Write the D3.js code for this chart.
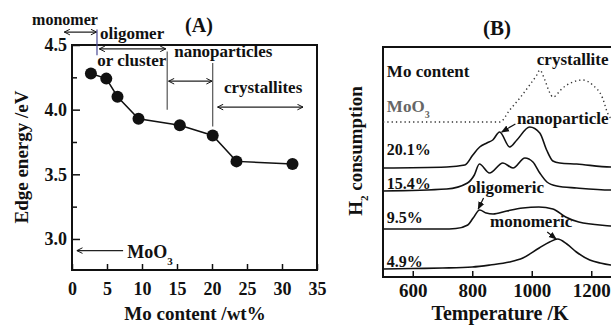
<!DOCTYPE html>
<html>
<head>
<meta charset="utf-8">
<title>Edge energy and H2-TPR of Mo catalysts</title>
<style>
  body { margin: 0; background: #fff; }
  text { font-family: "Liberation Serif", "Times New Roman", serif; font-weight: bold; fill: #111; }
</style>
</head>
<body>
<script src="https://cdnjs.cloudflare.com/ajax/libs/d3/7.8.5/d3.min.js"></script>
<script>
// ---- panel A data : edge energy vs Mo content
var moContent  = [2.7, 4.9, 6.5, 9.5, 15.4, 20.1, 23.5, 31.5];
var edgeEnergy = [4.28, 4.24, 4.10, 3.93, 3.88, 3.80, 3.60, 3.58];
var xTicksA = [0, 5, 10, 15, 20, 25, 30, 35];
var yTicksA = [3.0, 3.5, 4.0, 4.5];
var yMinorA = [3.25, 3.75, 4.25];
var moO3Edge = 2.91;

// ---- panel B data : H2 consumption (arbitrary units, curves stacked)
var tempTicksB = [600, 800, 1000, 1200];
var temp49 = [500, 600, 700, 800, 860, 925, 970, 1025, 1060, 1087, 1118, 1150, 1195, 1230, 1265, 1300];
var h2_49  = [8, 8.5, 9, 10, 12, 15, 19, 29, 35, 38, 33, 25, 17, 14, 12, 11];
var temp95 = [500, 700, 745, 785, 803, 825, 847, 870, 916, 970, 1024, 1071, 1114, 1158, 1265, 1300];
var h2_95  = [48, 48, 48.5, 52, 59, 67, 64, 63, 66, 69, 70, 68, 60, 55, 51, 50];
var temp154 = [500, 714, 784, 807, 824, 858, 903, 937, 977, 1004, 1027, 1051, 1084, 1151, 1265, 1300];
var h2_154  = [86, 88, 94, 102, 113, 104, 114, 109, 119, 115, 104, 95, 91, 89, 87, 87];
var temp201 = [500, 714, 775, 802, 825, 849, 869, 892, 926, 950, 993, 1027, 1050, 1071, 1094, 1151, 1265, 1300];
var h2_201  = [109, 110, 112, 122, 130, 134, 137, 145, 130, 137, 150, 144, 127, 116, 114, 113, 110, 110];
var tempMoO3 = [500, 893, 926, 960, 993, 1017, 1027, 1044, 1061, 1071, 1104, 1138, 1171, 1205, 1238, 1255, 1265, 1300];
var h2_MoO3  = [155, 155, 167, 179, 192, 202, 207, 197, 184, 180, 189, 195, 197, 192, 179, 164, 159, 155];
var sampleLabels = ["20.1%", "15.4%", "9.5%", "4.9%"];
var labelLevels  = [122, 88, 54, 10];

var svg = d3.select("body").append("svg")
    .attr("width", 611)
    .attr("height", 326);

var defs = svg.append("defs");
defs.append("marker")
    .attr("id", "open")
    .attr("viewBox", "0 0 10 10")
    .attr("refX", 9).attr("refY", 5)
    .attr("markerWidth", 7).attr("markerHeight", 7)
    .attr("markerUnits", "userSpaceOnUse")
    .attr("orient", "auto-start-reverse")
  .append("path")
    .attr("d", "M1,1 L9,5 L1,9")
    .style("fill", "none").style("stroke", "#111").style("stroke-width", 1.4);
defs.append("marker")
    .attr("id", "solid")
    .attr("viewBox", "0 0 10 10")
    .attr("refX", 9).attr("refY", 5)
    .attr("markerWidth", 8).attr("markerHeight", 8)
    .attr("markerUnits", "userSpaceOnUse")
    .attr("orient", "auto")
  .append("path")
    .attr("d", "M0,1 L10,5 L0,9 Z")
    .style("fill", "#111");

// =================== panel A ===================
var xA = d3.scaleLinear().domain([0, 35]).range([72, 317]);
var yA = d3.scaleLinear().domain([2.76, 4.5]).range([270, 45]);

var gA = svg.append("g");

gA.append("g")
    .attr("transform", "translate(0," + yA(2.76) + ")")
    .call(d3.axisBottom(xA).tickValues(xTicksA).tickSize(-6).tickPadding(12).tickFormat(d3.format("d")))
    .call(function(g) {
      g.select(".domain").remove();
      g.selectAll("line").style("stroke", "#111").style("stroke-width", 1.5);
      g.selectAll("text").style("font-size", "18px").style("font-family", null);
    });

gA.append("g")
    .attr("transform", "translate(" + xA(0) + ",0)")
    .call(d3.axisLeft(yA).tickValues(yTicksA).tickSize(-8).tickPadding(5).tickFormat(d3.format(".1f")))
    .call(function(g) {
      g.select(".domain").remove();
      g.selectAll("line").style("stroke", "#111").style("stroke-width", 1.5);
      g.selectAll("text").style("font-size", "18px").style("font-family", null);
    });

gA.append("g")
    .attr("transform", "translate(" + xA(0) + ",0)")
    .call(d3.axisLeft(yA).tickValues(yMinorA).tickSize(-5).tickFormat(""))
    .call(function(g) {
      g.select(".domain").remove();
      g.selectAll("line").style("stroke", "#111").style("stroke-width", 1.5);
    });

gA.append("rect")
    .attr("x", xA(0)).attr("y", yA(4.5))
    .attr("width", xA(35) - xA(0)).attr("height", yA(2.76) - yA(4.5))
    .style("fill", "none").style("stroke", "#111").style("stroke-width", 2);

var ptsA = moContent.map(function(d, i) { return [d, edgeEnergy[i]]; });
gA.append("path")
    .datum(ptsA)
    .attr("d", d3.line().x(function(d) { return xA(d[0]); }).y(function(d) { return yA(d[1]); }))
    .style("fill", "none").style("stroke", "#111").style("stroke-width", 1.5);
gA.selectAll("circle.pt")
    .data(ptsA)
  .enter().append("circle")
    .attr("class", "pt")
    .attr("cx", function(d) { return xA(d[0]); })
    .attr("cy", function(d) { return yA(d[1]); })
    .attr("r", 6)
    .style("fill", "#111");

// region annotations
function seg(g, x1, y1, x2, y2, m1, m2, col) {
  var l = g.append("line")
      .attr("x1", x1).attr("y1", y1).attr("x2", x2).attr("y2", y2)
      .style("stroke", col || "#222").style("stroke-width", 1.2);
  if (m1) l.attr("marker-start", "url(#" + m1 + ")");
  if (m2) l.attr("marker-end", "url(#" + m2 + ")");
  return l;
}
seg(gA, xA(-1.1), yA(4.60), xA(3.5), yA(4.60), "open", "open");
seg(gA, xA(3.9), yA(4.47), xA(13.4), yA(4.47), "open", "open");
seg(gA, xA(13.8), yA(4.22), xA(20.0), yA(4.22), "open", "open");
seg(gA, xA(20.8), yA(4.02), xA(33.0), yA(4.02), "open", "open");
seg(gA, xA(3.57), yA(4.62), xA(3.57), yA(4.42), null, null, "#4a4a96");
seg(gA, xA(13.6), yA(4.45), xA(13.6), yA(4.0), null, null, "#555");
seg(gA, xA(20.1), yA(4.36), xA(20.1), yA(3.87), null, null, "#555");
seg(gA, xA(7.3), yA(moO3Edge), xA(0.7), yA(moO3Edge), null, "open");

function label(g, x, y, str, size, anchor) {
  return g.append("text").attr("x", x).attr("y", y)
      .style("font-size", size + "px")
      .style("text-anchor", anchor || "start")
      .text(str);
}
label(gA, xA(-5.7), 25, "monomer", 16);
label(gA, xA(4.0), 39, "oligomer", 17);
label(gA, xA(3.6), 66, "or cluster", 17);
label(gA, xA(14.6), 57, "nanoparticles", 17);
label(gA, xA(21.7), 93, "crystallites", 17);
label(gA, 199, 32, "(A)", 20, "middle");

var moA = label(gA, xA(7.9), yA(moO3Edge) + 7, "MoO", 18);
moA.append("tspan").attr("dy", 7).style("font-size", "11px").text("3");

gA.append("text")
    .attr("transform", "translate(28,157) rotate(-90)")
    .style("font-size", "19px").style("text-anchor", "middle")
    .text("Edge energy /eV");
label(gA, 195, 320, "Mo content /wt%", 19, "middle");

// =================== panel B ===================
var xB = d3.scaleLinear().domain([500, 1300]).range([383, 621]);
var yB = d3.scaleLinear().domain([0, 230]).range([277, 47]);

var gB = svg.append("g");

gB.append("g")
    .attr("transform", "translate(0," + yB(0) + ")")
    .call(d3.axisBottom(xB).tickValues(tempTicksB).tickSize(-6).tickPadding(7).tickFormat(d3.format("d")))
    .call(function(g) {
      g.select(".domain").remove();
      g.selectAll("line").style("stroke", "#111").style("stroke-width", 1.5);
      g.selectAll("text").style("font-size", "19px").style("font-family", null);
    });

gB.append("rect")
    .attr("x", xB(500)).attr("y", yB(230))
    .attr("width", xB(1300) - xB(500)).attr("height", yB(0) - yB(230))
    .style("fill", "none").style("stroke", "#111").style("stroke-width", 2);

var lineB = d3.line()
    .x(function(d) { return xB(d[0]); })
    .y(function(d) { return yB(d[1]); })
    .curve(d3.curveMonotoneX);

function zip(t, v) { return t.map(function(d, i) { return [d, v[i]]; }); }
[[temp49, h2_49], [temp95, h2_95], [temp154, h2_154], [temp201, h2_201]].forEach(function(s) {
  gB.append("path")
      .datum(zip(s[0], s[1]))
      .attr("d", lineB)
      .style("fill", "none").style("stroke", "#111").style("stroke-width", 1.6);
});
gB.append("path")
    .datum(zip(tempMoO3, h2_MoO3))
    .attr("d", lineB)
    .style("fill", "none").style("stroke", "#333").style("stroke-width", 1.4)
    .style("stroke-dasharray", "1.3,3");

sampleLabels.forEach(function(s, i) {
  label(gB, xB(513), yB(labelLevels[i]), s, 16);
});
label(gB, xB(513), yB(200), "Mo content", 17);
var moB = label(gB, xB(513), yB(165), "MoO", 17).style("fill", "#666");
moB.append("tspan").attr("dy", 6).style("font-size", "10px").text("3");

label(gB, xB(1017), yB(212), "crystallite", 17);
label(gB, xB(950), yB(153), "nanoparticle", 17);
label(gB, xB(784), yB(84), "oligomeric", 17);
label(gB, xB(860), yB(50), "monomeric", 17);
label(gB, 497, 35, "(B)", 21, "middle");

seg(gB, xB(945), yB(153), xB(899), yB(145), null, "solid", "#111");
seg(gB, xB(838), yB(79), xB(820), yB(68), null, "solid", "#111");
seg(gB, xB(1052), yB(45), xB(1082), yB(38), null, "solid", "#111");

var hLab = gB.append("text")
    .attr("transform", "translate(362,151) rotate(-90)")
    .style("font-size", "19px").style("text-anchor", "middle");
hLab.append("tspan").text("H");
hLab.append("tspan").attr("dy", 6).style("font-size", "11px").text("2");
hLab.append("tspan").attr("dy", -6).text(" consumption");
label(gB, 500, 320, "Temperature /K", 20, "middle");
</script>
</body>
</html>
